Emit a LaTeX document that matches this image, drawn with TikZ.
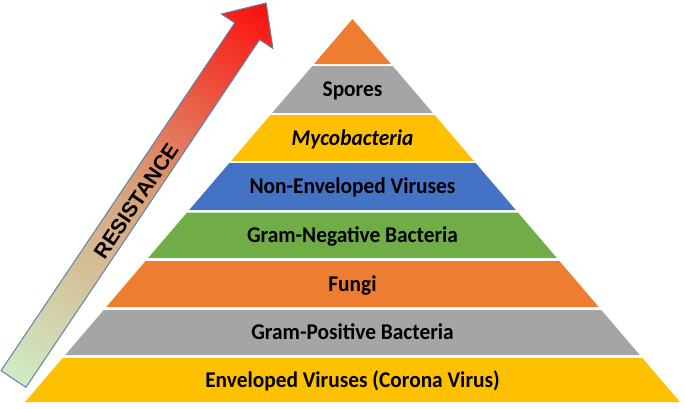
\documentclass[tikz,border=0pt]{standalone}
\usepackage{fontspec}
\setmainfont{Carlito}
\newfontfamily\arialfont{Liberation Sans}
\usepackage{graphicx}
\definecolor{porange}{HTML}{ED7D31}
\definecolor{pgray}{HTML}{A5A5A5}
\definecolor{pyellow}{HTML}{FFC000}
\definecolor{pblue}{HTML}{4472C4}
\definecolor{pgreen}{HTML}{70AD47}
\definecolor{agreen}{RGB}{208,234,196}
\definecolor{amid}{RGB}{216,158,118}
\definecolor{ared}{RGB}{255,8,8}
\definecolor{aborder}{RGB}{95,130,170}
\newcommand\pband[3]{%
  \fill[#3] ({352.5-0.855*(#1-19)},#1) -- ({352.5+0.855*(#1-19)},#1)
    -- ({352.5+0.855*(#2-19)},#2) -- ({352.5-0.855*(#2-19)},#2) -- cycle;}
\newcommand\sq[1]{\scalebox{0.95}[1]{#1}}
\newcommand\arrowoutline{(0,15) -- (419,15) -- (419,31) -- (453,0) -- (419,-31) -- (419,-15) -- (0,-15) -- cycle}
\tikzset{
  lbl/.style={inner sep=0pt, text height=14.5pt, text depth=0pt, text=black,
    font=\fontsize{22.5}{27}\selectfont\bfseries},
}
\begin{document}
\begin{tikzpicture}[x=1pt,y=-1pt]
\useasboundingbox (0,0) rectangle (685,408);
% pyramid bands
\pband{19}{64}{porange}
\pband{66}{113}{pgray}
\pband{115}{161}{pyellow}
\pband{163}{210}{pblue}
\pband{212.5}{258}{pgreen}
\pband{261}{307}{porange}
\pband{310}{355}{pgray}
\pband{358}{402}{pyellow}
% labels
\node[lbl] (spores) at (352.5,89.5) {\sq{Spores}};
\node[lbl] (myco) at (352.5,138) {\sq{\itshape Mycobacteria}};
\node[lbl] (nonenv) at (352.5,186.5) {\sq{Non-Enveloped Viruses}};
\node[lbl] (gramneg) at (352.5,235) {\sq{Gram-Negative Bacteria}};
\node[lbl] (fungi) at (352.5,284) {\sq{Fungi}};
\node[lbl] (grampos) at (352.5,332.5) {\sq{Gram-Positive Bacteria}};
\node[lbl] (envel) at (352.5,380) {\sq{Enveloped Viruses (Corona Virus)}};
% resistance arrow, drawn along its own axis
\begin{scope}[shift={(13.5,379)}, rotate=56.1, x=1pt, y=1pt]
  \begin{scope}
    \clip \arrowoutline;
    \foreach \i in {0,...,99}{
      \pgfmathtruncatemacro\pa{min(100,2*\i)}
      \pgfmathtruncatemacro\pb{max(0,2*\i-100)}
      \ifnum\i<50 \colorlet{stripc}{amid!\pa!agreen}\else\colorlet{stripc}{ared!\pb!amid}\fi
      \fill[stripc] ({\i*4.6-0.5},-40) rectangle ({(\i+1)*4.6+0.5},40);
    }
  \end{scope}
  \draw[aborder, line width=1pt, line join=round] \arrowoutline;
\end{scope}
\node[rotate=56, inner sep=0pt, font=\arialfont\bfseries\fontsize{21}{25}\selectfont] (res) at (136,201) {RESISTANCE};
\end{tikzpicture}
\end{document}
